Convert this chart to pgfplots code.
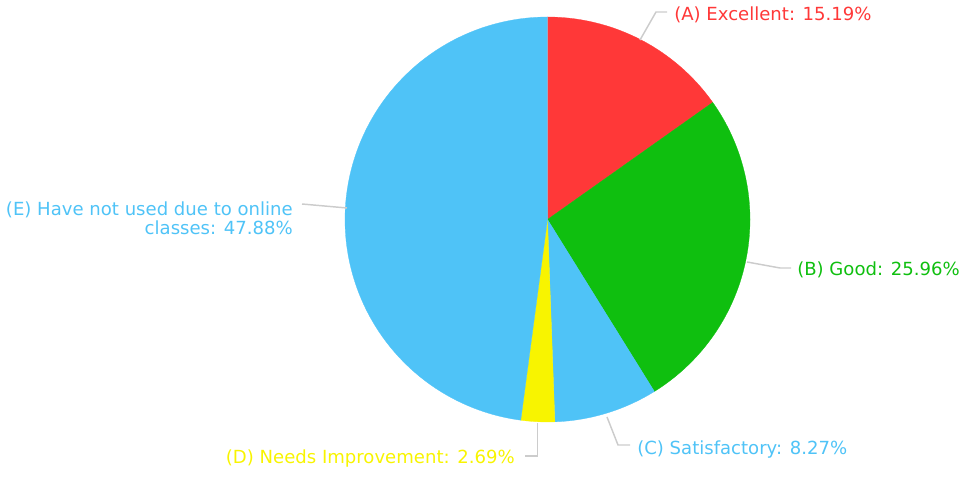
\documentclass[border=0pt]{standalone}
\usepackage{pgfplots}
\pgfplotsset{compat=1.18}
\usepackage{fontspec}
\setmainfont{DejaVu Sans}
\definecolor{cA}{HTML}{FF3838}
\definecolor{cB}{HTML}{0FBF0F}
\definecolor{cC}{HTML}{4FC3F7}
\definecolor{cD}{HTML}{F8F400}
\definecolor{cE}{HTML}{4FC3F7}
\definecolor{lead}{HTML}{CCCCCC}
% shares (percent)
\def\pA{15.19}
\def\pB{25.96}
\def\pC{8.27}
\def\pD{2.69}
\def\pE{47.88}
\pgfmathsetmacro\aA{90-3.6*\pA}
\pgfmathsetmacro\aB{\aA-3.6*\pB}
\pgfmathsetmacro\aC{\aB-3.6*\pC}
\pgfmathsetmacro\aD{\aC-3.6*\pD}
\pgfmathsetmacro\aE{\aD-3.6*\pE}
\def\cx{547.5}
\def\cy{257.5}
\def\rr{202.5}
\begin{document}
\begin{tikzpicture}
\begin{axis}[scale only axis, width=725.25pt, height=357.75pt,
  xmin=0, xmax=967, ymin=0, ymax=477, hide axis, clip=false]
\addplot[draw=cA, line width=0.2pt, fill=cA, no markers, domain=\aA:90, samples=90, variable=\t]
  ({\cx+\rr*cos(\t)},{\cy+\rr*sin(\t)}) -- (axis cs:\cx,\cy) -- cycle;
\addplot[draw=cB, line width=0.2pt, fill=cB, no markers, domain=\aB:\aA, samples=120, variable=\t]
  ({\cx+\rr*cos(\t)},{\cy+\rr*sin(\t)}) -- (axis cs:\cx,\cy) -- cycle;
\addplot[draw=cC, line width=0.2pt, fill=cC, no markers, domain=\aC:\aB, samples=50, variable=\t]
  ({\cx+\rr*cos(\t)},{\cy+\rr*sin(\t)}) -- (axis cs:\cx,\cy) -- cycle;
\addplot[draw=cD, line width=0.2pt, fill=cD, no markers, domain=\aD:\aC, samples=20, variable=\t]
  ({\cx+\rr*cos(\t)},{\cy+\rr*sin(\t)}) -- (axis cs:\cx,\cy) -- cycle;
\addplot[draw=cE, line width=0.2pt, fill=cE, no markers, domain=\aE:\aD, samples=200, variable=\t]
  ({\cx+\rr*cos(\t)},{\cy+\rr*sin(\t)}) -- (axis cs:\cx,\cy) -- cycle;
% leader lines
\addplot[lead, line width=1.1pt, no markers] coordinates {(640,437) (656,465) (667,465)};
\addplot[lead, line width=1.1pt, no markers] coordinates {(747,215) (780,209) (791,209)};
\addplot[lead, line width=1.1pt, no markers] coordinates {(607,60) (618,32) (630,32)};
\addplot[lead, line width=1.1pt, no markers] coordinates {(537.5,54) (537.5,21) (525,21)};
\addplot[lead, line width=1.1pt, no markers] coordinates {(347,269) (302,273)};
% labels
\begin{scope}[every node/.style={font=\fontsize{13.55}{14.25}\selectfont, inner sep=0pt}]
\node[anchor=west, text=cA] at (axis cs:674,462) {(A) Excellent: 15.19\%};
\node[anchor=west, text=cB] at (axis cs:797,207) {(B) Good: 25.96\%};
\node[anchor=west, text=cC] at (axis cs:637,27) {(C) Satisfactory: 8.27\%};
\node[anchor=east, text=cD] at (axis cs:515,18) {(D) Needs Improvement: 2.69\%};
\node[anchor=east, text=cE, align=right] at (axis cs:293,259) {(E) Have not used due to online\\classes: 47.88\%};
\end{scope}
\end{axis}
\pgfresetboundingbox
\path[use as bounding box] (0,0) rectangle (725.25pt,357.75pt);
\end{tikzpicture}
\end{document}
